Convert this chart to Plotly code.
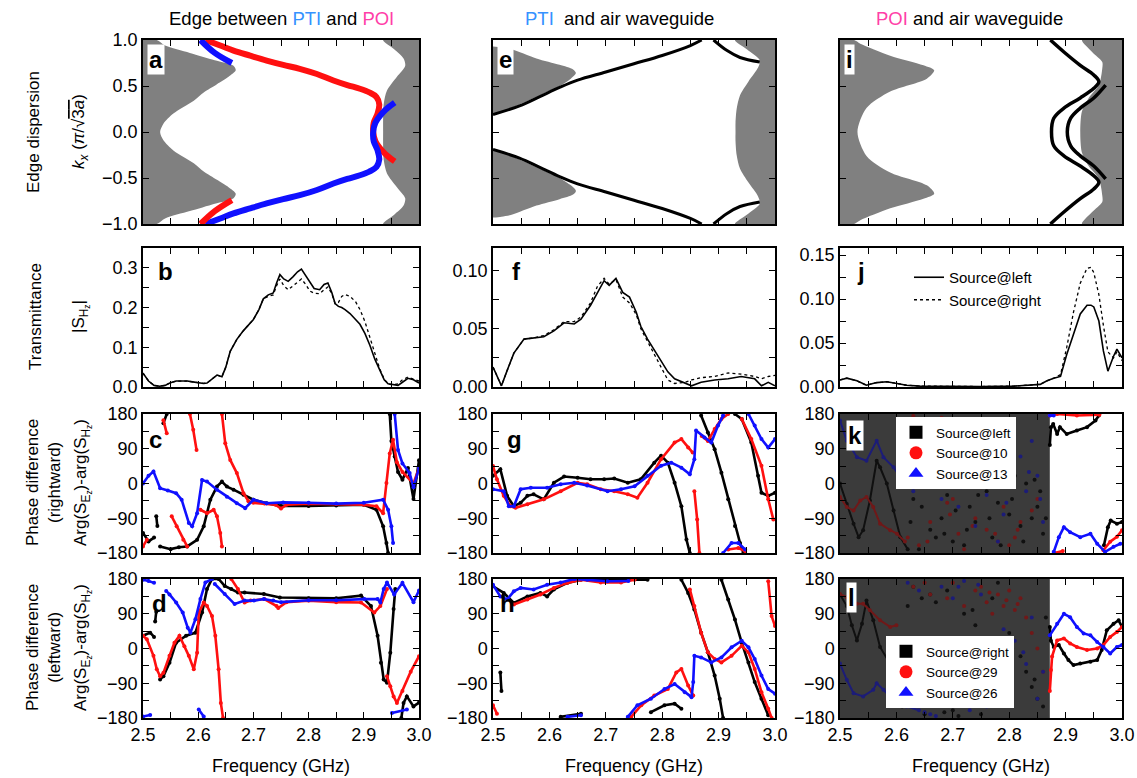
import plotly.graph_objects as go

# ---------------- DATA ----------------
freq_range = [2.5, 3.0]

# --- panel a (edge between PTI and POI) ---
a_left_f = [2.5, 2.525, 2.54, 2.585, 2.63, 2.664, 2.668, 2.655, 2.634, 2.61, 2.592, 2.555, 2.537, 2.531,
            2.537, 2.555, 2.592, 2.61, 2.634, 2.655, 2.668, 2.664, 2.63, 2.585, 2.54, 2.525, 2.5]
a_left_k = [1.0, 1.0, 0.94, 0.86, 0.78, 0.72, 0.67, 0.6, 0.52, 0.43, 0.34, 0.2, 0.09, 0.0,
            -0.09, -0.2, -0.34, -0.43, -0.52, -0.6, -0.67, -0.72, -0.78, -0.86, -0.94, -1.0, -1.0]
a_right_f = [3.0, 2.935, 2.955, 2.972, 2.975, 2.96, 2.942, 2.936, 2.935, 2.935,
             2.935, 2.936, 2.942, 2.96, 2.975, 2.972, 2.955, 2.935, 3.0]
a_right_k = [1.0, 1.0, 0.9, 0.8, 0.72, 0.6, 0.45, 0.3, 0.15, 0.0,
             -0.15, -0.3, -0.45, -0.6, -0.72, -0.8, -0.9, -1.0, -1.0]
a_red_f = [2.613, 2.64, 2.664, 2.694, 2.724, 2.754, 2.784, 2.815, 2.845, 2.87, 2.893, 2.91, 2.923,
           2.928, 2.925, 2.918, 2.917, 2.921, 2.935, 2.945, 2.956]
a_red_k = [1.0, 0.94, 0.885, 0.83, 0.777, 0.73, 0.687, 0.63, 0.56, 0.51, 0.47, 0.43, 0.38,
           0.3, 0.2, 0.1, 0.0, -0.1, -0.215, -0.27, -0.32]
a_blue_f = [2.613, 2.64, 2.664, 2.694, 2.724, 2.754, 2.784, 2.815, 2.845, 2.87, 2.893, 2.91, 2.923,
            2.928, 2.925, 2.918, 2.917, 2.921, 2.935, 2.945, 2.956]
a_blue_k = [-1.0, -0.94, -0.885, -0.83, -0.777, -0.73, -0.687, -0.63, -0.56, -0.51, -0.47, -0.43, -0.38,
            -0.3, -0.2, -0.1, 0.0, 0.1, 0.215, 0.27, 0.32]
a_blue_top_f = [2.604, 2.63, 2.661]
a_blue_top_k = [1.0, 0.86, 0.75]
a_red_bot_f = [2.604, 2.63, 2.661]
a_red_bot_k = [-1.0, -0.86, -0.74]

# --- panel e (PTI and air) ---
e_lobe_up_f = [2.5, 2.515, 2.533, 2.577, 2.618, 2.642, 2.647, 2.638, 2.618, 2.583, 2.547, 2.515, 2.5]
e_lobe_up_k = [0.93, 0.92, 0.9, 0.8, 0.73, 0.68, 0.64, 0.58, 0.5, 0.4, 0.3, 0.22, 0.19]
e_lobe_dn_f = [2.5, 2.515, 2.533, 2.577, 2.618, 2.642, 2.647, 2.638, 2.618, 2.583, 2.547, 2.515, 2.5]
e_lobe_dn_k = [-0.93, -0.92, -0.9, -0.8, -0.73, -0.68, -0.64, -0.58, -0.5, -0.4, -0.3, -0.22, -0.19]
e_right_f = [3.0, 2.929, 2.95, 2.973, 2.97, 2.953, 2.938, 2.932, 2.93, 2.93,
             2.93, 2.932, 2.938, 2.953, 2.97, 2.973, 2.95, 2.929, 3.0]
e_right_k = [1.0, 1.0, 0.9, 0.78, 0.7, 0.55, 0.4, 0.25, 0.1, 0.0,
             -0.1, -0.25, -0.4, -0.55, -0.7, -0.78, -0.9, -1.0, -1.0]
e_up_f = [2.5, 2.547, 2.583, 2.618, 2.65, 2.7, 2.75, 2.8, 2.85, 2.87]
e_up_k = [0.19, 0.283, 0.384, 0.484, 0.563, 0.652, 0.742, 0.832, 0.94, 1.0]
e_dn_f = [2.5, 2.547, 2.583, 2.618, 2.65, 2.7, 2.75, 2.8, 2.85, 2.87]
e_dn_k = [-0.19, -0.283, -0.384, -0.484, -0.563, -0.652, -0.742, -0.832, -0.94, -1.0]
e_up2_f = [2.891, 2.915, 2.938, 2.973]
e_up2_k = [1.0, 0.885, 0.81, 0.76]
e_dn2_f = [2.891, 2.915, 2.938, 2.973]
e_dn2_k = [-1.0, -0.885, -0.81, -0.76]

# --- panel i (POI and air) ---
i_left_f = [2.5, 2.525, 2.536, 2.589, 2.648, 2.667, 2.654, 2.589, 2.547, 2.531,
            2.547, 2.589, 2.654, 2.667, 2.648, 2.589, 2.536, 2.525, 2.5]
i_left_k = [1.0, 1.0, 0.96, 0.83, 0.725, 0.67, 0.58, 0.44, 0.26, 0.0,
            -0.26, -0.44, -0.58, -0.67, -0.725, -0.83, -0.96, -1.0, -1.0]
i_right_f = [3.0, 2.929, 2.947, 2.965, 2.965, 2.959, 2.941, 2.929, 2.926,
             2.929, 2.941, 2.959, 2.965, 2.965, 2.947, 2.929, 3.0]
i_right_k = [1.0, 1.0, 0.87, 0.76, 0.69, 0.51, 0.37, 0.225, 0.0,
             -0.225, -0.37, -0.51, -0.69, -0.76, -0.87, -1.0, -1.0]
i_c1_f = [2.873, 2.897, 2.926, 2.95, 2.959, 2.95, 2.926, 2.897, 2.879, 2.875,
          2.879, 2.897, 2.926, 2.95, 2.959, 2.95, 2.926, 2.897, 2.873]
i_c1_k = [1.0, 0.87, 0.725, 0.62, 0.546, 0.475, 0.37, 0.26, 0.15, 0.0,
          -0.15, -0.26, -0.37, -0.475, -0.546, -0.62, -0.725, -0.87, -1.0]
i_c2_f = [2.971, 2.95, 2.926, 2.909, 2.903, 2.909, 2.926, 2.95, 2.971]
i_c2_k = [0.51, 0.37, 0.26, 0.15, 0.0, -0.15, -0.26, -0.37, -0.51]

# --- transmittance ---
b_f = [2.5, 2.51, 2.52, 2.53, 2.54, 2.55, 2.56, 2.57, 2.58, 2.59, 2.6, 2.61, 2.616, 2.625, 2.634, 2.643,
       2.65, 2.658, 2.67, 2.682, 2.69, 2.7, 2.71, 2.718, 2.727, 2.736, 2.742, 2.748, 2.755, 2.763, 2.772,
       2.78, 2.787, 2.795, 2.802, 2.81, 2.82, 2.828, 2.835, 2.842, 2.848, 2.854, 2.86, 2.866, 2.875, 2.885,
       2.893, 2.902, 2.911, 2.92, 2.929, 2.937, 2.944, 2.952, 2.962, 2.97, 2.98, 2.99, 3.0]
b_left = [0.035, 0.015, 0.004, 0.002, 0.004, 0.011, 0.015, 0.015, 0.015, 0.013, 0.011, 0.009, 0.01, 0.02,
          0.03, 0.026, 0.05, 0.09, 0.12, 0.142, 0.155, 0.17, 0.195, 0.222, 0.232, 0.237, 0.262, 0.283,
          0.272, 0.266, 0.278, 0.29, 0.297, 0.28, 0.262, 0.248, 0.245, 0.258, 0.262, 0.238, 0.21, 0.203,
          0.2, 0.195, 0.185, 0.17, 0.158, 0.135, 0.105, 0.07, 0.04, 0.018, 0.008, 0.006, 0.004, 0.012,
          0.022, 0.018, 0.01]
b_right = [0.035, 0.015, 0.004, 0.002, 0.004, 0.011, 0.015, 0.015, 0.015, 0.013, 0.011, 0.009, 0.01, 0.02,
           0.03, 0.026, 0.05, 0.09, 0.12, 0.142, 0.155, 0.17, 0.195, 0.222, 0.228, 0.232, 0.255, 0.272,
           0.255, 0.245, 0.255, 0.265, 0.272, 0.258, 0.242, 0.236, 0.235, 0.245, 0.252, 0.235, 0.21, 0.213,
           0.228, 0.233, 0.228, 0.215, 0.195, 0.165, 0.125, 0.08, 0.045, 0.02, 0.008, 0.005, 0.008, 0.018,
           0.025, 0.02, 0.015]

f_f = [2.5, 2.507, 2.515, 2.525, 2.537, 2.555, 2.572, 2.59, 2.608, 2.626, 2.644, 2.656, 2.673, 2.685,
       2.697, 2.706, 2.718, 2.73, 2.742, 2.754, 2.762, 2.774, 2.786, 2.798, 2.81, 2.822, 2.84, 2.852,
       2.869, 2.893, 2.917, 2.94, 2.964, 2.976, 2.988, 3.0]
f_left = [0.017, 0.009, 0.001, 0.014, 0.029, 0.041, 0.042, 0.043, 0.048, 0.055, 0.054, 0.058, 0.07, 0.081,
          0.091, 0.087, 0.093, 0.081, 0.077, 0.064, 0.052, 0.041, 0.032, 0.022, 0.013, 0.007, 0.003, 0.001,
          0.004, 0.006, 0.007, 0.009, 0.007, 0.001, 0.004, 0.001]
f_right = [0.017, 0.009, 0.001, 0.014, 0.029, 0.041, 0.042, 0.044, 0.049, 0.056, 0.056, 0.06, 0.072, 0.086,
           0.093, 0.088, 0.092, 0.077, 0.072, 0.062, 0.05, 0.039, 0.028, 0.016, 0.006, 0.003, 0.004, 0.006,
           0.008, 0.009, 0.012, 0.011, 0.009, 0.007, 0.009, 0.01]

j_f = [2.5, 2.512, 2.53, 2.547, 2.565, 2.583, 2.601, 2.618, 2.642, 2.689, 2.749, 2.808, 2.855, 2.867,
       2.879, 2.891, 2.902, 2.914, 2.926, 2.938, 2.945, 2.95, 2.959, 2.967, 2.975, 2.985, 2.991, 3.0]
j_left = [0.008, 0.01, 0.007, 0.002, 0.005, 0.006, 0.004, 0.002, 0.001, 0.0005, 0.0005, 0.001, 0.003, 0.007,
          0.01, 0.012, 0.037, 0.06, 0.083, 0.093, 0.093, 0.091, 0.075, 0.041, 0.018, 0.035, 0.043, 0.033]
j_right = [0.008, 0.01, 0.007, 0.002, 0.005, 0.006, 0.004, 0.002, 0.001, 0.0005, 0.0005, 0.001, 0.003, 0.007,
           0.01, 0.014, 0.045, 0.085, 0.118, 0.135, 0.136, 0.13, 0.105, 0.07, 0.04, 0.033, 0.04, 0.03]

# --- phase difference, rightward (c, g, k) ---
c_black_f = [2.5, 2.51, 2.52, None, 2.524, 2.526, None, 2.537, 2.543, None, 2.531, 2.55, 2.565, 2.58, 2.598,
             2.61, 2.622, 2.634, 2.643, 2.652, 2.664, 2.682, 2.7, 2.724, 2.75, 2.8, 2.85, 2.9, 2.923, 2.935,
             2.941, 2.944, None, 2.947, 2.95, 2.956, 2.962, 2.97, 2.98, 2.99, 3.0]
c_black_p = [-128, -150, -140, None, -85, -110, None, 156, 180, None, -163, -170, -165, -163, -146,
             -111, -42, -8, 5, -8, -16, -29, -42, -51, -58, -58, -57, -55, -68, -111,
             -154, -180, None, 180, 110, 70, 30, 10, 40, -40, 60]
c_red_f = [2.5, 2.507, None, 2.537, 2.543, None, 2.552, 2.561, 2.573, 2.58, None, 2.585, 2.591, 2.597, None,
           2.604, 2.616, 2.628, 2.634, 2.64, 2.643, None, 2.643, 2.649, 2.658, 2.67, 2.682, 2.691, 2.7, 2.72,
           2.74, 2.75, 2.76, 2.8, 2.85, 2.9, 2.923, 2.935, 2.941, 2.947, 2.953, 2.96, 2.97, 2.99, 3.0]
c_red_p = [-163, -146, None, 164, 130, None, -85, -111, -146, -163, None, 180, 139, 87, None,
           -68, -77, -68, -85, -128, -163, None, 180, 104, 61, 27, -25, -46, -50, -52,
           -55, -65, -55, -52, -53, -55, -59, -77, 1, 78, 113, 55, 30, 0, 40]
c_blue_f = [2.5, 2.51, 2.519, 2.531, 2.545, 2.56, 2.57, 2.583, 2.589, 2.598, 2.607, 2.616, 2.634, 2.652,
            2.67, 2.685, 2.7, 2.724, 2.754, 2.8, 2.85, 2.9, 2.935, 2.944, 2.95, 2.953, None,
            2.956, 2.962, 2.97, 2.983, 2.99, 3.0]
c_blue_p = [0, 20, 31, -12, -18, -25, -42, -102, -111, -77, 9, 5, -16, -34,
            -51, -64, -42, -51, -49, -50, -52, -50, -42, -68, -111, -154, None,
            180, 87, 52, 27, -10, 40]

g_black_f = [2.5, 2.513, 2.525, 2.537, 2.549, 2.561, 2.572, 2.59, 2.608, 2.626, 2.65, 2.673, 2.697, 2.715,
             2.739, 2.762, 2.786, 2.798, 2.81, 2.822, 2.834, 2.843, 2.849, None, 2.869, 2.881, 2.893, 2.905,
             2.917, 2.929, 2.938, 2.944, None, 2.929, 2.941, 2.958, 2.97, 2.976, 2.988, 3.0]
g_black_p = [20, 37, -32, -59, -50, -32, -28, -41, 2, 18, 15, 11, 11, 13,
             2, 11, 54, 72, 54, 2, -59, -145, -180, None, 176, 132, 89, 28,
             -41, -110, -154, -180, None, 180, 167, 106, 20, -24, -32, -24]
g_red_f = [2.5, 2.507, 2.519, 2.531, 2.54, 2.561, 2.59, 2.62, 2.65, 2.667, 2.691, 2.715, 2.739, 2.756,
           2.774, 2.798, 2.822, 2.834, 2.846, 2.854, None, 2.857, 2.862, 2.866, None, 2.87, 2.881, 2.893,
           2.905, 2.917, None, 2.917, 2.935, 2.947, None, 2.941, 2.958, 2.976, 2.988, 2.997]
g_red_p = [45, 11, -32, -59, -63, -54, -41, -20, 2, -2, -15, -20, -28, -37,
           2, 63, 106, 115, 93, 80, None, -20, -93, -180, None, 123, 110, 141,
           167, 180, None, -171, -167, -175, None, 167, 115, 46, -41, -93]
g_blue_f = [2.5, 2.519, 2.528, 2.537, 2.549, 2.567, 2.596, 2.62, 2.644, 2.667, 2.703, 2.727, 2.751, 2.774,
            2.798, 2.816, 2.834, 2.849, 2.857, 2.86, 2.875, 2.887, 2.899, 2.908, None, 2.908, 2.923, 2.935,
            2.947, None, 2.953, 2.964, 2.976, 2.988, 3.0]
g_blue_p = [-15, -20, -59, -59, -15, -11, -11, -2, 2, -5, -20, -15, -7, 20,
            46, 54, 41, 24, 63, 137, 119, 106, 150, 176, None, -180, -154, -154,
            -171, None, 180, 150, 115, 93, 115]

k_dark_edge = 2.872
k_black_f = [2.872, 2.874, 2.878, 2.885, 2.89, 2.902, 2.92, 2.938, 2.953, 2.959, None, 2.968, 2.975, 2.98, 2.991, 3.0]
k_black_p = [100, 146, 154, 128, 146, 128, 137, 146, 163, 176, None, -160, -113, -96, -104, -100]
k_red_f = [2.872, 2.885, 2.92, 2.96, None, 2.88, 2.895, None, 2.967, 2.979, 2.991, 3.0]
k_red_p = [176, 180, 176, 178, None, -180, -175, None, -173, -151, -138, -121]
k_blue_f = [2.872, 2.879, None, 2.879, 2.888, 2.897, 2.908, 2.926, 2.944, 2.956, 2.97, 2.985, 2.997]
k_blue_p = [176, 176, None, -177, -139, -113, -126, -139, -130, -156, -177, -164, -156]
kd_black_f = [2.5, 2.512, 2.524, 2.533, 2.541, 2.553, 2.565, 2.571, 2.583, 2.595, 2.607, 2.62]
kd_black_p = [0, -53, -104, -139, -121, -44, 59, 42, 0, -70, -139, -170]
kd_red_f = [2.5, 2.512, 2.524, 2.536, 2.547, 2.559, 2.571, 2.589, 2.601, 2.615]
kd_red_p = [-35, -61, -70, -44, -35, -61, -104, -121, -130, -150]
kd_blue_f = [2.5, 2.512, 2.53, 2.547, 2.565, 2.577, 2.595, 2.607, 2.62]
kd_blue_p = [163, 111, 68, 59, 111, 68, 42, 16, 0]
kd_black_sf = [2.63, 2.65, 2.66, 2.68, 2.70, 2.71, 2.73, 2.74, 2.76, 2.77, 2.79, 2.80, 2.82, 2.83, 2.85,
               2.86, 2.64, 2.69, 2.72, 2.75, 2.78, 2.81, 2.84, 2.67, 2.865, 2.855, 2.625, 2.645, 2.665,
               2.685, 2.705, 2.725, 2.745, 2.765, 2.785, 2.805, 2.825, 2.845]
kd_black_sp = [-40, 10, -120, -90, -150, 30, -60, -100, -20, -140, 40, -80, -110, 0, -60,
               -130, -170, -30, -160, 50, -50, 20, -90, -140, -90, -20, -100, -60, 20, -130,
               -70, -120, -30, -90, -160, -40, -150, 10]
kd_red_sf = [2.62, 2.64, 2.66, 2.67, 2.69, 2.71, 2.72, 2.74, 2.76, 2.78, 2.79, 2.81, 2.82, 2.84, 2.65,
             2.70, 2.75, 2.80, 2.85, 2.63, 2.68, 2.735, 2.775, 2.815, 2.655, 2.695]
kd_red_sp = [-140, -160, -100, 160, -50, -130, -170, -90, -120, -150, -60, -140, -100, -70, 120,
             -40, -10, -160, -40, 175, 170, -110, -130, -120, -150, -80]
kd_blue_sf = [2.62, 2.63, 2.65, 2.66, 2.68, 2.69, 2.71, 2.73, 2.74, 2.76, 2.77, 2.79, 2.80, 2.82, 2.83,
              2.85, 2.86, 2.64, 2.7, 2.78, 2.84, 2.755, 2.675, 2.715, 2.795, 2.835, 2.855]
kd_blue_sp = [30, -20, 60, 10, -40, 20, -60, 0, -110, -30, 40, -80, 10, 70, -20,
              20, -100, 140, 90, -150, 110, 60, 45, -10, -50, 30, -40]

# --- phase difference, leftward (d, h, l) ---
d_black_f = [2.5, 2.513, 2.52, None, 2.522, 2.524, None, 2.531, 2.537, 2.548, 2.56, 2.578, 2.595, 2.607,
             2.616, 2.625, 2.637, 2.648, 2.66, 2.672, 2.684, 2.719, 2.748, 2.8, 2.85, 2.895, 2.913, 2.925,
             2.931, 2.936, 2.942, 2.948, 2.954, 2.957, None, 2.968, 2.972, 2.978, 2.99, 3.0]
d_black_p = [33, 41, 30, None, 70, 95, None, -80, -72, -37, 15, 33, 41, 93,
             154, 180, 180, 162, 154, 145, 145, 141, 132, 130, 130, 137, 110, 33,
             -37, -80, -89, -11, 102, 154, None, -180, -141, -124, -150, -140]
d_red_f = [2.5, 2.507, 2.519, 2.525, 2.531, 2.537, 2.548, 2.557, 2.566, 2.575, 2.583, 2.592, 2.598, 2.601,
           2.61, 2.616, 2.625, 2.631, 2.637, 2.641, 2.645, None, 2.66, 2.672, 2.684, 2.695, 2.72, 2.742,
           2.745, 2.76, 2.8, 2.85, 2.895, 2.919, 2.93, 2.942, None, 2.942, 2.948, 2.954, 2.96, 2.97, 2.985, 3.0]
d_red_p = [33, 24, -19, -54, -72, -63, -19, 15, 33, 6, -19, -54, -11, 93,
           119, 110, 84, 33, -54, -141, -180, None, 180, 154, 119, 124, 128, 110,
           105, 120, 124, 120, 119, 93, 110, 154, None, -72, -98, -124, -141, -110, -60, -20]
d_blue_f = [2.5, 2.51, 2.52, None, 2.542, 2.548, 2.56, 2.572, 2.581, 2.586, 2.595, 2.604, 2.613, 2.625,
            None, 2.5, 2.513, None, 2.601, 2.61, None, 2.63, 2.648, 2.666, 2.684, 2.701, 2.719, 2.736,
            2.75, 2.8, 2.85, 2.901, 2.925, 2.93, 2.936, 2.942, 2.955, 2.97, 2.99, 3.0, None, 2.951, 2.978]
d_blue_p = [178, 175, 170, None, 149, 140, 119, 93, 54, 41, 76, 128, 171, 180,
            None, -176, -172, None, -158, -176, None, 167, 141, 115, 124, 124, 128, 124,
            120, 125, 125, 128, 128, 119, 154, 171, 140, 170, 120, 150, None, -167, -158]

h_black_f = [2.5, 2.519, 2.537, 2.561, 2.584, 2.596, 2.608, 2.632, 2.656, 2.774, None, 2.62, 2.656, None,
             2.78, 2.804, 2.822, 2.834, None, 2.834, 2.846, 2.857, 2.869, 2.881, 2.893, 2.902, 2.908, None,
             2.905, 2.917, 2.929, 2.941, 2.953, 2.964, 2.976, 2.988, None, 2.513, 2.515]
h_black_p = [161, 144, 118, 135, 144, 135, 153, 170, 178, 178, None, -177, -169, None,
             -165, -147, -143, -156, None, 178, 144, 101, 41, -10, -70, -130, -180, None,
             178, 127, 75, 15, -36, -87, -130, -173, None, -62, -110]
h_red_f = [2.5, 2.507, None, 2.537, 2.561, 2.584, 2.608, 2.632, 2.656, 2.691, 2.727, 2.751, None,
           2.745, 2.763, 2.786, 2.81, 2.825, 2.834, 2.846, 2.855, None, 2.849, 2.857, 2.869, 2.881, 2.893,
           2.905, 2.923, 2.941, 2.953, 2.964, 2.976, 2.988, 2.994, None, 2.988, 2.994, 3.0]
h_red_p = [-147, -169, None, 114, 127, 140, 157, 170, 178, 171, 171, 178, None,
           -177, -147, -122, -105, -62, -53, -96, -122, None, 153, 110, 41, -10, -27,
           -36, -19, 7, -10, -53, -113, -156, -180, None, 174, 84, 58]
h_blue_f = [2.5, 2.513, 2.525, 2.537, 2.549, 2.572, 2.596, 2.62, 2.644, 2.667, 2.703, 2.74, None, 2.632,
            2.656, None, 2.739, 2.756, 2.78, 2.804, 2.822, 2.84, 2.852, 2.855, 2.857, 2.869, 2.887, 2.905,
            2.923, 2.941, 2.953, 2.964, 2.976, 2.988, 3.0]
h_blue_p = [165, 135, 127, 148, 157, 153, 165, 171, 180, 178, 174, 175, None, -177,
            -173, None, -177, -147, -130, -105, -92, -113, -126, -87, -19, -23, -36, -23,
            3, 20, 3, -27, -70, -105, -117]

l_dark_edge = 2.872
l_black_f = [2.872, 2.874, 2.879, 2.888, 2.897, 2.905, 2.914, 2.926, 2.944, 2.956, 2.964, 2.973, 2.985, 2.994, 3.0]
l_black_p = [56, 20, 4, 9, -13, -30, -43, -39, -34, -30, -4, 47, 64, 73, 56]
l_red_f = [2.872, 2.874, 2.876, 2.885, 2.897, 2.908, 2.92, 2.938, 2.956, 2.967, 2.979, 2.991, 3.0]
l_red_p = [-110, -56, -21, 21, 26, 13, 4, -4, 0, 9, 30, 43, 56]
l_blue_f = [2.872, 2.885, 2.897, 2.908, 2.92, 2.932, 2.944, 2.956, 2.967, 2.979, 2.991, 3.0]
l_blue_p = [34, 64, 90, 81, 56, 39, 34, 17, 4, -13, 4, 9]
ld_black_f = [2.5, 2.512, 2.521, 2.53, 2.539, 2.547, 2.559, 2.571, 2.589, 2.6]
ld_black_p = [140, 110, 60, 21, 64, 124, 73, 4, -40, -60]
ld_red_f = [2.5, 2.512, 2.53, 2.541, 2.553, 2.571, 2.589, 2.6]
ld_red_p = [141, 133, 116, 116, 99, 73, 56, 60]
ld_blue_f = [2.5, 2.512, 2.524, 2.541, 2.559, 2.565, 2.577, 2.595, 2.618, 2.64]
ld_blue_p = [-39, -81, -116, -124, -107, -90, -107, -133, -150, -160]
ld_black_sf = [2.61, 2.63, 2.65, 2.67, 2.69, 2.7, 2.72, 2.74, 2.75, 2.77, 2.79, 2.8, 2.82, 2.83, 2.84,
               2.85, 2.86, 2.865, 2.66, 2.71, 2.78, 2.62, 2.645, 2.685, 2.735, 2.805, 2.845]
ld_black_sp = [-150, 160, -170, 120, 150, -160, 90, 60, -170, 130, -120, 40, -20, -60, -100,
               -130, -150, 80, 140, -175, 170, 110, 130, -165, 100, 0, -80]
ld_red_sf = [2.63, 2.66, 2.7, 2.72, 2.74, 2.76, 2.77, 2.78, 2.79, 2.8, 2.81, 2.82, 2.83, 2.84, 2.85,
             2.86, 2.69, 2.75, 2.65, 2.765, 2.795, 2.815]
ld_red_sp = [160, 140, 170, 110, 150, 120, 90, 140, 110, 150, 100, 130, 80, 40, 0,
             -60, 130, 160, 170, 145, 125, 115]
ld_blue_sf = [2.62, 2.64, 2.66, 2.68, 2.7, 2.72, 2.73, 2.75, 2.76, 2.78, 2.8, 2.81, 2.83, 2.84, 2.85,
              2.86, 2.67, 2.71, 2.79, 2.65, 2.745, 2.825]
ld_blue_sp = [170, 150, -170, 160, 130, 175, -160, 140, -150, -120, -90, 20, -40, 80, -130,
              -60, -175, 160, 50, -165, 165, -10]

# ---------------- LAYOUT HELPERS ----------------
W, H = 1137, 778
FONT = 'Liberation Sans, Arial, Helvetica, sans-serif'
cols_px = [(143, 419), (493, 775), (840, 1122)]
rows_px = [(40, 224), (248, 387), (414, 553), (579, 718)]
GRAY = '#808080'
DARK = '#3b3b3b'
RED = '#ff1010'
BLUE = '#1010ff'
BLACK = '#000000'
D_RED = '#701818'
D_BLUE = '#1c1c78'
D_BLACK = '#101010'

fig = go.Figure()


def idx(r, c):
    return r * 3 + c + 1


def xref(n):
    return 'x' if n == 1 else f'x{n}'


def yref(n):
    return 'y' if n == 1 else f'y{n}'


def add(n, **kw):
    kw.setdefault('showlegend', False)
    kw.setdefault('hoverinfo', 'skip')
    fig.add_trace(go.Scatter(xaxis=xref(n), yaxis=yref(n), **kw))


def fillpoly(n, fx, fy):
    add(n, x=fx, y=fy, mode='lines', fill='toself', fillcolor=GRAY,
        line=dict(width=0, color=GRAY, shape='spline', smoothing=0.8))


def phase(n, fx, fy, color, w=2.6, ms=4):
    add(n, x=fx, y=fy, mode='lines+markers', line=dict(color=color, width=w),
        marker=dict(color=color, size=ms), connectgaps=False)


def scat(n, fx, fy, color):
    add(n, x=fx, y=fy, mode='markers', marker=dict(color=color, size=4))


# ---------------- ROW 1: dispersion ----------------
n = idx(0, 0)
fillpoly(n, a_left_f, a_left_k)
fillpoly(n, a_right_f, a_right_k)
for fx, ky, col in [(a_red_f, a_red_k, RED), (a_blue_f, a_blue_k, BLUE),
                    (a_blue_top_f, a_blue_top_k, BLUE), (a_red_bot_f, a_red_bot_k, RED)]:
    add(n, x=fx, y=ky, mode='lines', line=dict(color=col, width=6, shape='spline'))

n = idx(0, 1)
fillpoly(n, e_lobe_up_f, e_lobe_up_k)
fillpoly(n, e_lobe_dn_f, e_lobe_dn_k)
fillpoly(n, e_right_f, e_right_k)
for fx, ky in [(e_up_f, e_up_k), (e_dn_f, e_dn_k), (e_up2_f, e_up2_k), (e_dn2_f, e_dn2_k)]:
    add(n, x=fx, y=ky, mode='lines', line=dict(color=BLACK, width=3, shape='spline'))

n = idx(0, 2)
fillpoly(n, i_left_f, i_left_k)
fillpoly(n, i_right_f, i_right_k)
for fx, ky in [(i_c1_f, i_c1_k), (i_c2_f, i_c2_k)]:
    add(n, x=fx, y=ky, mode='lines', line=dict(color=BLACK, width=3.5, shape='spline'))

# ---------------- ROW 2: transmittance ----------------
for c, (fx, yl, yr) in enumerate([(b_f, b_left, b_right), (f_f, f_left, f_right), (j_f, j_left, j_right)]):
    n = idx(1, c)
    leg = (c == 2)
    add(n, x=fx, y=yl, mode='lines', line=dict(color=BLACK, width=1.6), name='Source@left',
        showlegend=leg, legend='legend')
    add(n, x=fx, y=yr, mode='lines', line=dict(color=BLACK, width=1.3, dash='dot'), name='Source@right',
        showlegend=leg, legend='legend')

# ---------------- ROW 3: rightward phase ----------------
n = idx(2, 0)
phase(n, c_black_f, c_black_p, BLACK)
phase(n, c_red_f, c_red_p, RED)
phase(n, c_blue_f, c_blue_p, BLUE)
n = idx(2, 1)
phase(n, g_black_f, g_black_p, BLACK)
phase(n, g_red_f, g_red_p, RED)
phase(n, g_blue_f, g_blue_p, BLUE)
n = idx(2, 2)
scat(n, kd_black_sf, kd_black_sp, D_BLACK)
scat(n, kd_red_sf, kd_red_sp, D_RED)
scat(n, kd_blue_sf, kd_blue_sp, D_BLUE)
phase(n, kd_black_f, kd_black_p, D_BLACK, w=2)
phase(n, kd_red_f, kd_red_p, D_RED, w=2)
phase(n, kd_blue_f, kd_blue_p, D_BLUE, w=2)
phase(n, k_black_f, k_black_p, BLACK)
phase(n, k_red_f, k_red_p, RED)
phase(n, k_blue_f, k_blue_p, BLUE)
for nm, sym, col in [('Source@left', 'square', BLACK), ('Source@10', 'circle', RED), ('Source@13', 'triangle-up', BLUE)]:
    add(n, x=[None], y=[None], mode='markers', marker=dict(symbol=sym, color=col, size=13),
        name=nm, showlegend=True, legend='legend2')

# ---------------- ROW 4: leftward phase ----------------
n = idx(3, 0)
phase(n, d_black_f, d_black_p, BLACK)
phase(n, d_red_f, d_red_p, RED)
phase(n, d_blue_f, d_blue_p, BLUE)
n = idx(3, 1)
phase(n, h_black_f, h_black_p, BLACK)
phase(n, h_red_f, h_red_p, RED)
phase(n, h_blue_f, h_blue_p, BLUE)
n = idx(3, 2)
scat(n, ld_black_sf, ld_black_sp, D_BLACK)
scat(n, ld_red_sf, ld_red_sp, D_RED)
scat(n, ld_blue_sf, ld_blue_sp, D_BLUE)
phase(n, ld_black_f, ld_black_p, D_BLACK, w=2)
phase(n, ld_red_f, ld_red_p, D_RED, w=2)
phase(n, ld_blue_f, ld_blue_p, D_BLUE, w=2)
phase(n, l_black_f, l_black_p, BLACK)
phase(n, l_red_f, l_red_p, RED)
phase(n, l_blue_f, l_blue_p, BLUE)
for nm, sym, col in [('Source@right', 'square', BLACK), ('Source@29', 'circle', RED), ('Source@26', 'triangle-up', BLUE)]:
    add(n, x=[None], y=[None], mode='markers', marker=dict(symbol=sym, color=col, size=13),
        name=nm, showlegend=True, legend='legend3')

# ---------------- AXES ----------------
layout = dict(width=W, height=H, margin=dict(l=0, r=0, t=0, b=0, autoexpand=False), paper_bgcolor='white',
              plot_bgcolor='white', font=dict(family=FONT, size=17, color='black'))

# (tick0, dtick, minor dtick, format, range)
yspec = {
    0: [(-1.0, 0.5, None, '.1f', [-1, 1])] * 3,
    1: [(0, 0.1, 0.05, '.1f', [0, 0.35]),
        (0, 0.05, 0.025, '.2f', [0, 0.119]),
        (0, 0.05, 0.025, '.2f', [0, 0.158])],
    2: [(-180, 90, 45, 'd', [-180, 180])] * 3,
    3: [(-180, 90, 45, 'd', [-180, 180])] * 3,
}

tickstyle = dict(ticks='inside', ticklen=6, tickwidth=1.3, tickcolor='black')

for r in range(4):
    for c in range(3):
        n = idx(r, c)
        x0, x1 = cols_px[c]
        y0, y1 = rows_px[r]
        common = dict(showline=True, mirror='ticks', linecolor='black', linewidth=1.5,
                      showgrid=False, zeroline=False, fixedrange=True, automargin=False,
                      tickfont=dict(family=FONT, size=18, color='black'), **tickstyle)
        xa = dict(common, domain=[x0 / W, x1 / W], range=freq_range, anchor=yref(n),
                  tick0=2.5, dtick=0.1, tickformat='.1f',
                  minor=dict(tick0=2.5, dtick=0.05, showgrid=False, **tickstyle),
                  showticklabels=(r == 3))
        t0, dt, mdt, fmt, rg = yspec[r][c]
        ya = dict(common, domain=[1 - y1 / H, 1 - y0 / H], range=rg, anchor=xref(n),
                  tick0=t0, dtick=dt, tickformat=fmt,
                  showticklabels=not (r == 0 and c > 0))
        if mdt:
            ya['minor'] = dict(tick0=t0, dtick=mdt, showgrid=False, **tickstyle)
        layout['xaxis' if n == 1 else f'xaxis{n}'] = xa
        layout['yaxis' if n == 1 else f'yaxis{n}'] = ya

fig.update_layout(**layout)

# dark regions in k and l
for n, edge in [(idx(2, 2), k_dark_edge), (idx(3, 2), l_dark_edge)]:
    fig.add_shape(type='rect', xref=xref(n), yref=yref(n), x0=2.5, x1=edge, y0=-180, y1=180,
                  fillcolor=DARK, line=dict(width=0), layer='below')

# legends
fig.update_layout(
    legend=dict(x=909 / W, y=1 - 261 / H, xanchor='left', yanchor='top', bgcolor='rgba(0,0,0,0)',
                font=dict(family=FONT, size=15), tracegroupgap=0, itemwidth=30),
    legend2=dict(x=896 / W, y=1 - 417 / H, xanchor='left', yanchor='top', bgcolor='white',
                 font=dict(family=FONT, size=13.5), itemsizing='trace'),
    legend3=dict(x=886 / W, y=1 - 636 / H, xanchor='left', yanchor='top', bgcolor='white',
                 font=dict(family=FONT, size=13.5), itemsizing='trace'),
)

# ---------------- TEXT ----------------
ann = []


def text(px, py, t, size=17, angle=0, xanchor='center', yanchor='middle', bg=None):
    d = dict(x=px / W, y=1 - py / H, xref='paper', yref='paper', text=t, showarrow=False,
             font=dict(family=FONT, size=size, color='black'), textangle=angle,
             xanchor=xanchor, yanchor=yanchor)
    if bg:
        d['bgcolor'] = bg
        d['borderpad'] = 1
    ann.append(d)


PTI = "<span style='color:#3592ff'>PTI</span>"
POI = "<span style='color:#ff3fa8'>POI</span>"
text(281, 18, f"Edge between {PTI} and {POI}", size=18.5)
text(619, 18, f"{PTI}  and air waveguide", size=18.5)
text(969, 18, f"{POI} and air waveguide", size=18.5)

text(33, 132, 'Edge dispersion', angle=-90)
text(80, 132, "<i>k</i><sub><i>x</i></sub> (<i>π</i>/√<span style='text-decoration:overline'>3<i>a</i></span>)", angle=-90)
text(35, 317, 'Transmittance', angle=-90)
text(80, 317, '|S<sub>H<sub>z</sub></sub>|', angle=-90)
text(43, 483, 'Phase difference<br>(rightward)', angle=-90)
text(43, 648, 'Phase difference<br>(leftward)', angle=-90)
text(82, 483, 'Arg(S<sub>E<sub>z</sub></sub>)-arg(S<sub>H<sub>z</sub></sub>)', angle=-90)
text(82, 648, 'Arg(S<sub>E<sub>z</sub></sub>)-arg(S<sub>H<sub>z</sub></sub>)', angle=-90)

for cx in [281, 634, 981]:
    text(cx, 766, 'Frequency (GHz)', size=18)

letters = [('a', 147, 44), ('e', 497, 44), ('i', 844, 44),
           ('b', 156, 256), ('f', 510, 256), ('j', 855, 256),
           ('c', 147, 424), ('g', 505, 424), ('k', 846, 420),
           ('d', 150, 588), ('h', 498, 588), ('l', 846, 582)]
for t, px, py in letters:
    text(px, py, f'<b>{t}</b>', size=24, xanchor='left', yanchor='top',
         bg=('white' if t in 'aeikl' else None))

fig.update_layout(annotations=ann)
fig.write_html('out.html', config={'displayModeBar': False},
               post_script="document.body.style.margin='0';document.body.style.padding='0';"
                           "document.documentElement.style.overflow='hidden';")
